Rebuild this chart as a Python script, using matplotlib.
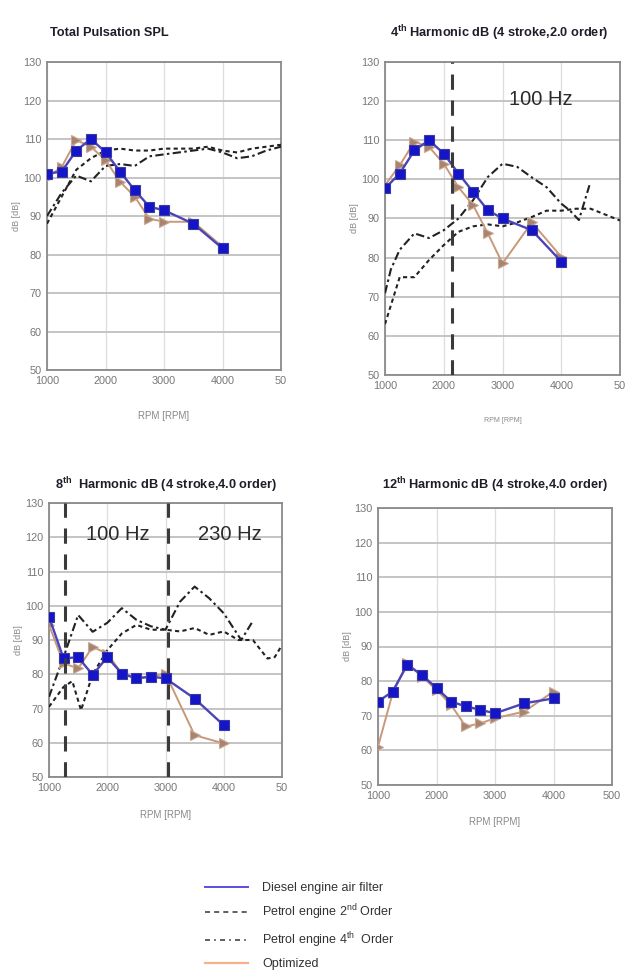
import matplotlib
matplotlib.use("Agg")
import matplotlib.pyplot as plt
from matplotlib.lines import Line2D

plt.rcParams['font.family'] = ['Liberation Sans', 'DejaVu Sans']
plt.rcParams['mathtext.fontset'] = 'custom'
plt.rcParams['mathtext.rm'] = 'Liberation Sans'
plt.rcParams['mathtext.bf'] = 'Liberation Sans:bold'

W, H = 625, 971

# ---- data ----
rpm = [1000, 1250, 1500, 1750, 2000, 2250, 2500, 2750, 3000, 3500, 4000]
rpm_petrol = [1000, 1250, 1500, 1750, 2000, 2250, 2500, 2750, 3000, 3250, 3500,
              3750, 4000, 4250, 4500, 4750, 5000]

# Total pulsation SPL
tot_diesel = [101, 101.5, 107, 110, 106.6, 101.5, 96.7, 92.4, 91.5, 88, 81.6]
tot_optim = [100, 102.7, 109.7, 108, 104.5, 98.9, 95, 89.3, 88.5, 88.5, 82]
tot_petrol2 = [88, 95, 102, 105, 107, 107.5, 107, 107, 107.5, 107.5, 107.5,
               108, 107, 106.5, 107.5, 108, 108.5]
tot_petrol4 = [90, 96, 100.5, 99, 103, 103.5, 103, 105.5, 106, 106.5, 107,
               107.5, 106.5, 105, 105.5, 107, 108]

# 4th harmonic
h4_diesel = [97.7, 101.5, 107.4, 110, 106.6, 101.5, 96.8, 92.1, 90, 87, 79]
h4_optim = [98.5, 103.6, 109.6, 108.3, 104, 98, 93.4, 86.2, 78.5, 89, 80.2]
h4_petrol2 = [63, 75, 75, 79.4, 83.2, 86.6, 88, 88.5, 88, 89, 90.4,
              92, 92, 92.5, 92.5, 91, 89.5]
h4_rpm4 = [1000, 1100, 1250, 1500, 1750, 2000, 2250, 2500, 2750, 3000, 3250,
           3500, 3750, 4000, 4150, 4300, 4480]
h4_petrol4 = [70.9, 77, 82, 86.2, 85, 87, 90, 94.7, 100.6, 104, 103.2,
              100.5, 98, 93.8, 92, 89.6, 98.5]
h4_split = [2140]

# 8th harmonic
h8_diesel = [96.8, 84.6, 85, 79.8, 85, 80.2, 78.8, 79.3, 78.8, 72.9, 65.1]
h8_optim = [94.4, 83.2, 81.7, 88, 86, 80.2, 78.8, 79.3, 80.2, 62.2, 59.8]
h8_rpm2 = [1000, 1250, 1400, 1550, 1750, 2000, 2250, 2500, 2750, 3000, 3250,
           3500, 3750, 4000, 4250, 4500, 4750, 4875, 5000]
h8_petrol2 = [70.5, 76.3, 78, 69.5, 80, 87, 91.9, 94.4, 93, 93, 92.5,
              93.5, 91.5, 92.5, 90, 90, 84.6, 85, 88.5]
h8_rpm4 = [1000, 1250, 1500, 1750, 2000, 2250, 2500, 2750, 3000, 3250, 3500,
           3750, 4000, 4300, 4480]
h8_petrol4 = [73.4, 85, 97.3, 92.4, 95, 99.3, 95.9, 94, 93, 101.2, 105.6,
              102.2, 97.8, 90, 95]
h8_split = [1270, 3040]

# 12th harmonic
h12_diesel = [74.1, 77, 84.7, 81.8, 78, 74.1, 72.7, 71.7, 70.7, 73.6, 75]
h12_optim = [61.1, 76.5, 85.2, 81.3, 77.5, 73.1, 66.9, 67.8, 69.3, 71.2, 77]

yticks = [50, 60, 70, 80, 90, 100, 110, 120, 130]
xticks = [1000, 2000, 3000, 4000, 5000]

C_DIESEL_LINE = '#4a44b8'
C_DIESEL_MK = '#1414c8'
C_OPT_LINE = '#c89878'
C_OPT_MK = '#a88470'
TITLE_SIZE = 9.2

fig = plt.figure(figsize=(W / 100, H / 100), dpi=100)


def px_axes(l, t, r, b):
    return fig.add_axes([l / W, 1 - b / H, (r - l) / W, (b - t) / H])


def style(ax, xtl, ylab_x, xlab_y, xlab_size=7):
    ax.set_xlim(1000, 5000)
    ax.set_ylim(50, 130)
    ax.set_xticks(xticks)
    ax.set_xticklabels(xtl)
    ax.set_yticks(yticks)
    ax.tick_params(length=0, labelsize=7.8, labelcolor='#777777', pad=4)
    ax.grid(True, axis='y', color='#c4c4c4', lw=1.4)
    ax.grid(True, axis='x', color='#dddddd', lw=0.9)
    ax.set_axisbelow(True)
    for s in ax.spines.values():
        s.set_color('#8a8a8a')
        s.set_linewidth(1.3)
    ax.set_ylabel('dB [dB]', fontsize=6.5, color='#888888')
    ax.yaxis.set_label_coords(ylab_x, 0.5)
    ax.set_xlabel('RPM [RPM]', fontsize=xlab_size, color='#888888')
    ax.xaxis.set_label_coords(0.5, xlab_y)
    ax.xaxis.label.set_va('center')


def draw_main(ax, diesel, optim):
    ax.plot(rpm, optim, color=C_OPT_LINE, lw=1.4, marker='>', ms=7,
            mfc=C_OPT_MK, mec='#c8a890', mew=0.8, zorder=4)
    ax.plot(rpm, diesel, color=C_DIESEL_LINE, lw=1.7, marker='s', ms=7.5,
            mfc=C_DIESEL_MK, mec='#3a3aa0', mew=0.8, zorder=5)


def draw_petrol(ax, x2, y2, x4, y4):
    ax.plot(x2, y2, color='#222222', lw=1.5, dashes=(2, 1.6), zorder=3)
    ax.plot(x4, y4, color='#222222', lw=1.5, dashes=(4, 1.6, 1.2, 1.6), zorder=3)


def split_lines(ax, xs):
    for x in xs:
        ax.axvline(x, color='#3a3a3a', lw=2.2, dashes=(5, 3.5), zorder=6)


def title(x, y, s):
    fig.text(x / W, 1 - y / H, s, fontsize=TITLE_SIZE, fontweight='bold',
             color='#1e1e2a', va='center', ha='left')


# ---- panel 1 ----
ax1 = px_axes(47, 62, 281, 370)
draw_petrol(ax1, rpm_petrol, tot_petrol2, rpm_petrol, tot_petrol4)
draw_main(ax1, tot_diesel, tot_optim)
style(ax1, ['1000', '2000', '3000', '4000', '50'], -0.11, -0.148)
title(50, 33, 'Total Pulsation SPL')

# ---- panel 2 ----
ax2 = px_axes(385, 62, 620, 375)
draw_petrol(ax2, rpm_petrol, h4_petrol2, h4_rpm4, h4_petrol4)
draw_main(ax2, h4_diesel, h4_optim)
split_lines(ax2, h4_split)
ax2.text(3660, 120.3, '100 Hz', fontsize=14.5, color='#2a2a2a', ha='center', va='center')
style(ax2, ['1000', '2000', '3000', '4000', '50'], -0.11, -0.146, xlab_size=5)
title(390, 33, r'4$^{\mathbf{th}}$ Harmonic dB (4 stroke,2.0 order)')

# ---- panel 3 ----
ax3 = px_axes(49, 503, 282, 777)
draw_petrol(ax3, h8_rpm2, h8_petrol2, h8_rpm4, h8_petrol4)
draw_main(ax3, h8_diesel, h8_optim)
split_lines(ax3, h8_split)
ax3.text(2180, 120.7, '100 Hz', fontsize=14.5, color='#2a2a2a', ha='center', va='center')
ax3.text(4100, 120.7, '230 Hz', fontsize=14.5, color='#2a2a2a', ha='center', va='center')
style(ax3, ['1000', '2000', '3000', '4000', '50'], -0.11, -0.139)
title(55, 485, r'8$^{\mathbf{th}}$  Harmonic dB (4 stroke,4.0 order)')

# ---- panel 4 ----
ax4 = px_axes(378, 508, 612, 785)
draw_main(ax4, h12_diesel, h12_optim)
style(ax4, ['1000', '2000', '3000', '4000', '500'], -0.11, -0.134)
title(382, 485, r'12$^{\mathbf{th}}$ Harmonic dB (4 stroke,4.0 order)')

# ---- legend ----
handles = [
    Line2D([], [], color='#5a4ee0', lw=1.4),
    Line2D([], [], color='#444444', lw=1.2, dashes=(3, 2.5)),
    Line2D([], [], color='#444444', lw=1.2, dashes=(3, 2.5, 1, 2.5)),
    Line2D([], [], color='#f7b08a', lw=1.6),
]
labels = ['Diesel engine air filter',
          r'Petrol engine 2$^{\mathrm{nd}}$ Order',
          r'Petrol engine 4$^{\mathrm{th}}$  Order',
          'Optimized']
leg = fig.legend(handles, labels, loc='upper left',
                 bbox_to_anchor=(205 / W, 1 - 882 / H), frameon=False,
                 borderpad=0, borderaxespad=0, handlelength=3.4,
                 handletextpad=1.2, labelspacing=0.66,
                 prop={'family': 'Liberation Sans', 'size': 9})
for t in leg.get_texts():
    t.set_color('#333333')

fig.savefig('out.png', dpi=100)
